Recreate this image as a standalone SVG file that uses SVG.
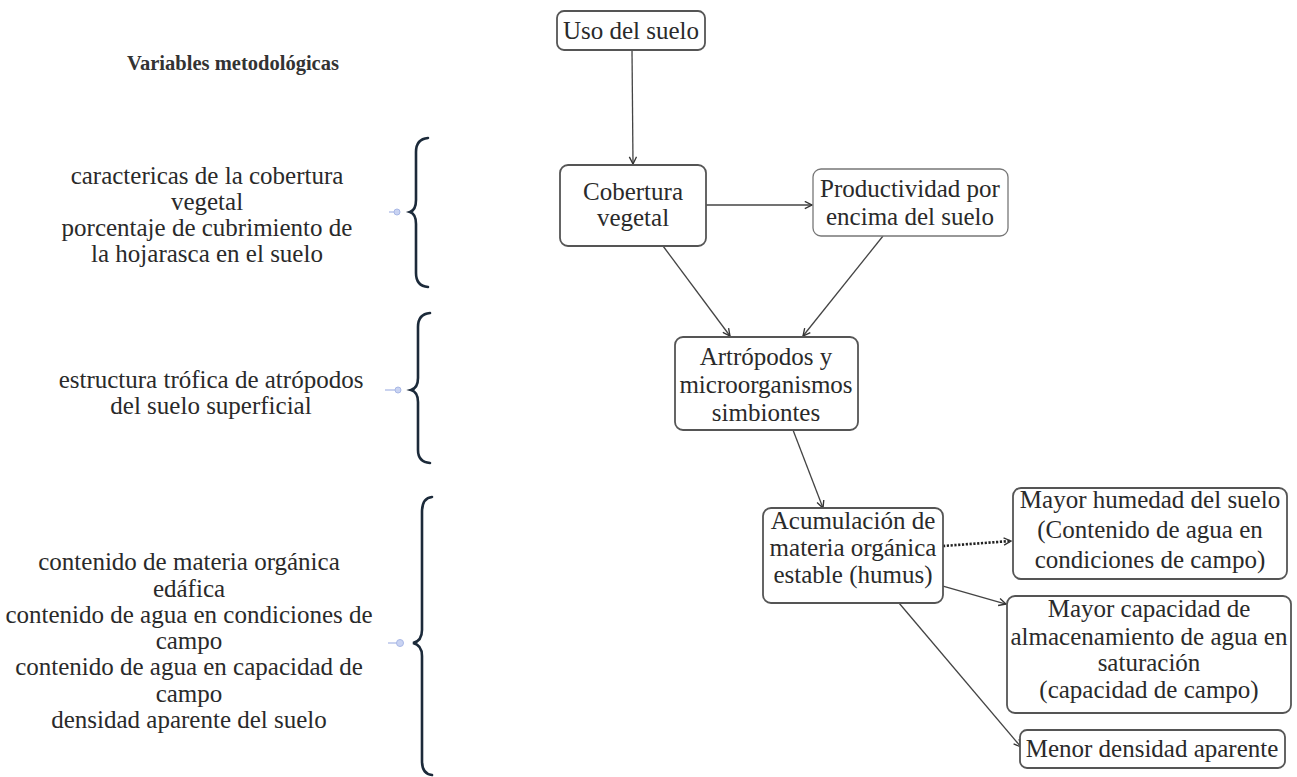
<svg xmlns="http://www.w3.org/2000/svg" width="1297" height="777" viewBox="0 0 1297 777">
<style>
.t{font-family:"Liberation Serif","Times New Roman",serif;font-size:25px;fill:#2a2a2a;text-anchor:middle}
.h{font-family:"Liberation Serif","Times New Roman",serif;font-size:20px;font-weight:bold;fill:#333}
.box{fill:#fff;stroke:#555;stroke-width:1.8}
.c{fill:none;stroke:#444;stroke-width:1.3}
.br{fill:none;stroke:#1c2a3a;stroke-width:2.6;stroke-linecap:round}
.dot{fill:#c9d3f2;stroke:#a9b8e6;stroke-width:1}
.dl{stroke:#b9c5ea;stroke-width:1.5}
</style>
<defs>
<marker id="a" viewBox="0 0 10 10" refX="9" refY="5" markerWidth="9" markerHeight="9" markerUnits="userSpaceOnUse" orient="auto">
<path d="M1,1 L9,5 L1,9" fill="none" stroke="#333" stroke-width="1.5"/>
</marker>
</defs>
<rect width="1297" height="777" fill="#fff"/>

<g id="left-labels">
<text class="h" x="127" y="70" textLength="212" lengthAdjust="spacingAndGlyphs">Variables metodológicas</text>
<text class="t" x="207" y="184">caractericas de la cobertura</text>
<text class="t" x="207" y="210">vegetal</text>
<text class="t" x="207" y="236">porcentaje de cubrimiento de</text>
<text class="t" x="207" y="262">la hojarasca en el suelo</text>
<text class="t" x="211" y="388">estructura trófica de atrópodos</text>
<text class="t" x="211" y="414">del suelo superficial</text>
<text class="t" x="189" y="570">contenido de materia orgánica</text>
<text class="t" x="189" y="597">edáfica</text>
<text class="t" x="189" y="623">contenido de agua en condiciones de</text>
<text class="t" x="189" y="649">campo</text>
<text class="t" x="189" y="675">contenido de agua en  capacidad de</text>
<text class="t" x="189" y="702">campo</text>
<text class="t" x="189" y="728">densidad aparente del suelo</text>
</g>

<g id="braces">
<path class="br" d="M428,138 Q416,139 416,152 L416,200 Q416,210 410,212 Q416,214 416,224 L416,273 Q416,286 428,287"/>
<path class="br" d="M430,313 Q418,314 418,327 L418,378 Q418,388 411,390 Q418,392 418,402 L418,450 Q418,462 430,463"/>
<path class="br" d="M432,497 Q422,498 422,512 L422,630 Q422,641 413,643 Q422,645 422,656 L422,761 Q422,774 432,775"/>
<line class="dl" x1="389" y1="212" x2="396" y2="212"/>
<circle class="dot" cx="397" cy="212" r="3"/>
<line class="dl" x1="385" y1="390" x2="397" y2="390"/>
<circle class="dot" cx="398" cy="390" r="3"/>
<line class="dl" x1="388" y1="643" x2="399" y2="643"/>
<circle class="dot" cx="400" cy="643" r="3.5"/>
</g>

<g id="connectors">
<line class="c" x1="632" y1="50" x2="633" y2="164" marker-end="url(#a)"/>
<line class="c" x1="706" y1="205" x2="812" y2="205" marker-end="url(#a)"/>
<line class="c" x1="663" y1="246" x2="730" y2="336" marker-end="url(#a)"/>
<line class="c" x1="883" y1="236" x2="803" y2="336" marker-end="url(#a)"/>
<line class="c" x1="793" y1="430" x2="823" y2="508" marker-end="url(#a)"/>
<line x1="943" y1="546" x2="1011" y2="541" stroke="#222" stroke-width="2.6" stroke-dasharray="2.2 1.6" marker-end="url(#a)"/>
<line class="c" x1="943" y1="586" x2="1006" y2="604" marker-end="url(#a)"/>
<line class="c" x1="899" y1="603" x2="1021" y2="747" marker-end="url(#a)"/>
</g>

<g id="n-uso">
<rect class="box" x="557" y="11" width="148" height="39" rx="7"/>
<text class="t" x="631" y="39">Uso del suelo</text>
</g>
<g id="n-cobertura">
<rect class="box" x="560" y="165" width="146" height="81" rx="8"/>
<text class="t" x="633" y="200">Cobertura</text>
<text class="t" x="633" y="226">vegetal</text>
</g>
<g id="n-productividad">
<rect class="box" x="813" y="169" width="195" height="67" rx="8" style="stroke:#777;stroke-width:1.3"/>
<text class="t" x="910" y="197">Productividad por</text>
<text class="t" x="910" y="225">encima del suelo</text>
</g>
<g id="n-artropodos">
<rect class="box" x="675" y="337" width="183" height="93" rx="8"/>
<text class="t" x="766" y="365">Artrópodos y</text>
<text class="t" x="766" y="393">microorganismos</text>
<text class="t" x="766" y="421">simbiontes</text>
</g>
<g id="n-acumulacion">
<rect class="box" x="763" y="508" width="180" height="95" rx="8"/>
<text class="t" x="853" y="529">Acumulación de</text>
<text class="t" x="853" y="556">materia orgánica</text>
<text class="t" x="853" y="583">estable (humus)</text>
</g>
<g id="n-humedad">
<rect class="box" x="1013" y="488" width="274" height="91" rx="8"/>
<text class="t" x="1150" y="508">Mayor humedad del suelo</text>
<text class="t" x="1150" y="538">(Contenido de agua en</text>
<text class="t" x="1150" y="568">condiciones de campo)</text>
</g>
<g id="n-capacidad">
<rect class="box" x="1007" y="596" width="284" height="117" rx="8"/>
<text class="t" x="1149" y="617">Mayor capacidad de</text>
<text class="t" x="1149" y="645">almacenamiento de agua en</text>
<text class="t" x="1149" y="671">saturación</text>
<text class="t" x="1149" y="698">(capacidad de campo)</text>
</g>
<g id="n-densidad">
<rect class="box" x="1020" y="730" width="265" height="38" rx="7"/>
<text class="t" x="1152" y="757">Menor densidad aparente</text>
</g>
</svg>
